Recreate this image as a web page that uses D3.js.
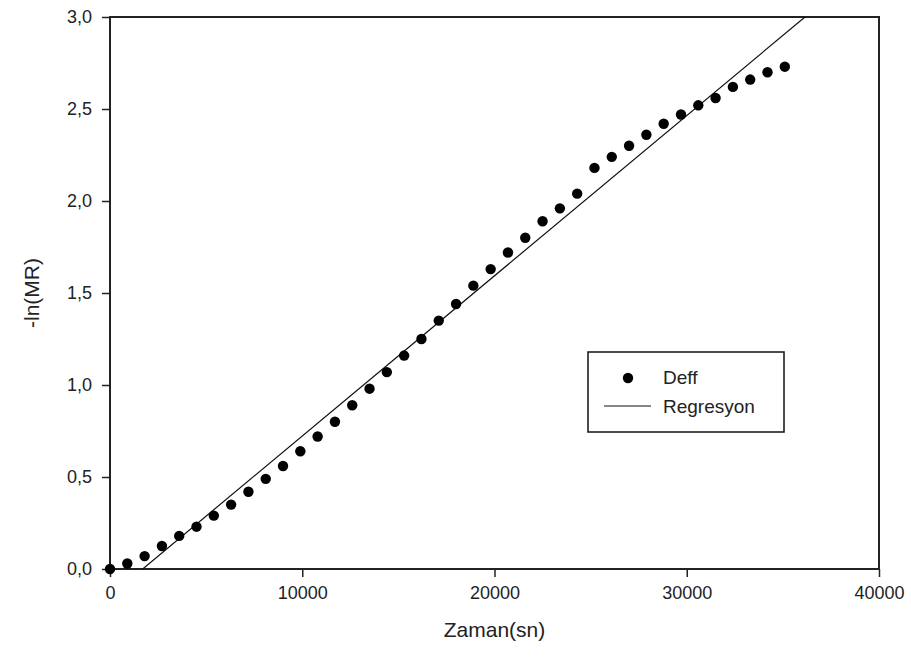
<!DOCTYPE html>
<html>
<head>
<meta charset="utf-8">
<script src="https://cdn.jsdelivr.net/npm/d3@7"></script>
<style>
  body { margin: 0; background: #fff; }
  svg text { font-family: "Liberation Sans", Arial, sans-serif; fill: #222; }
</style>
</head>
<body>
<div id="chart"></div>
<script>
// measured points (time in seconds, -ln(MR))
const timeSec = [0, 900, 1800, 2700, 3600, 4500, 5400, 6300, 7200, 8100,
    9000, 9900, 10800, 11700, 12600, 13500, 14400, 15300, 16200, 17100,
    18000, 18900, 19800, 20700, 21600, 22500, 23400, 24300, 25200, 26100,
    27000, 27900, 28800, 29700, 30600, 31500, 32400, 33300, 34200, 35100];
const lnMR = [0.00, 0.03, 0.07, 0.125, 0.18, 0.23, 0.29, 0.35, 0.42, 0.49,
    0.56, 0.64, 0.72, 0.80, 0.89, 0.98, 1.07, 1.16, 1.25, 1.35,
    1.44, 1.54, 1.63, 1.72, 1.80, 1.89, 1.96, 2.04, 2.18, 2.24,
    2.30, 2.36, 2.42, 2.47, 2.52, 2.56, 2.62, 2.66, 2.70, 2.73];

// regression line end points
const regTime = [1700, 36150];
const regLnMR = [0, 3.0];

const xTicks = [0, 10000, 20000, 30000, 40000];
const yTicks = [0, 0.5, 1.0, 1.5, 2.0, 2.5, 3.0];

const W = 911, H = 668;
const margin = {top: 17, right: 32, bottom: 99, left: 110};
const width = W - margin.left - margin.right;
const height = H - margin.top - margin.bottom;

const svg = d3.select("#chart").append("svg")
    .attr("width", W)
    .attr("height", H);

const g = svg.append("g")
    .attr("transform", `translate(${margin.left},${margin.top})`);

const x = d3.scaleLinear().domain([0, 40000]).range([0, width]);
const y = d3.scaleLinear().domain([0, 3]).range([height, 0]);

const fmtY = d => d3.format(".1f")(d).replace(".", ",");

// axes
const xAxis = d3.axisBottom(x).tickValues(xTicks).tickSize(8).tickPadding(9)
    .tickFormat(d3.format("d"));
const yAxis = d3.axisLeft(y).tickValues(yTicks).tickSize(8).tickPadding(10)
    .tickFormat(fmtY);

g.append("g")
    .attr("class", "x-axis")
    .attr("transform", `translate(0,${height})`)
    .call(xAxis);

g.append("g")
    .attr("class", "y-axis")
    .call(yAxis);

g.selectAll(".domain").remove();
g.selectAll(".tick line").attr("stroke", "#222").attr("stroke-width", 1.5);
g.selectAll(".tick text").style("font-size", "18px").attr("fill", "#222");

// frame
g.append("rect")
    .attr("width", width)
    .attr("height", height)
    .attr("fill", "none")
    .attr("stroke", "#222")
    .attr("stroke-width", 2);

// regression line
const reg = regTime.map((t, i) => [t, regLnMR[i]]);
g.append("path")
    .datum(reg)
    .attr("fill", "none")
    .attr("stroke", "#111")
    .attr("stroke-width", 1.2)
    .attr("d", d3.line().x(d => x(d[0])).y(d => y(d[1])));

// points
g.selectAll("circle.pt")
    .data(timeSec.map((t, i) => ({t, v: lnMR[i]})))
    .enter().append("circle")
    .attr("class", "pt")
    .attr("cx", d => x(d.t))
    .attr("cy", d => y(d.v))
    .attr("r", 5.2)
    .attr("fill", "#000");

// axis titles
svg.append("text")
    .attr("x", margin.left + width / 2)
    .attr("y", 637)
    .attr("text-anchor", "middle")
    .style("font-size", "21px")
    .text("Zaman(sn)");

svg.append("text")
    .attr("transform", `translate(39,${margin.top + height / 2}) rotate(-90)`)
    .attr("text-anchor", "middle")
    .style("font-size", "21px")
    .text("-ln(MR)");

// legend
const legend = svg.append("g").attr("transform", "translate(588,352)");
legend.append("rect")
    .attr("width", 196)
    .attr("height", 80)
    .attr("fill", "#fff")
    .attr("stroke", "#111")
    .attr("stroke-width", 1.5);
legend.append("circle")
    .attr("cx", 40).attr("cy", 26).attr("r", 5.2).attr("fill", "#000");
legend.append("text")
    .attr("x", 75).attr("y", 32)
    .style("font-size", "19px")
    .text("Deff");
legend.append("line")
    .attr("x1", 16).attr("x2", 63)
    .attr("y1", 54).attr("y2", 54)
    .attr("stroke", "#111").attr("stroke-width", 1.2);
legend.append("text")
    .attr("x", 75).attr("y", 61)
    .style("font-size", "19px")
    .text("Regresyon");
</script>
</body>
</html>
